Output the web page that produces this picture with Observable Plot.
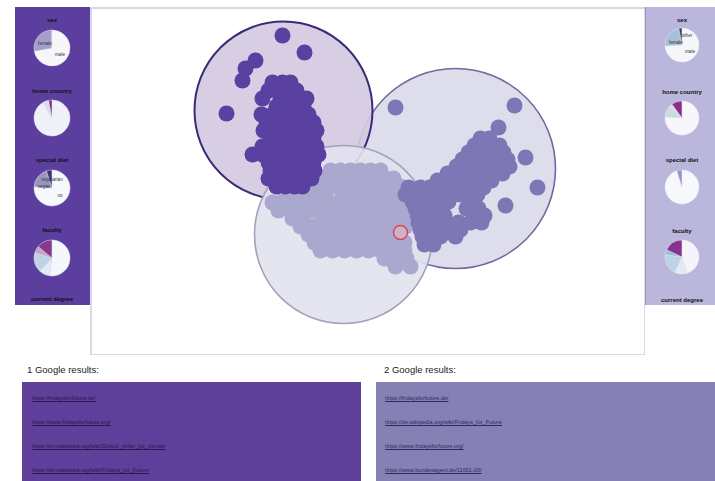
<!DOCTYPE html>
<html><head><meta charset="utf-8">
<script src="https://cdn.jsdelivr.net/npm/d3@7"></script>
<script src="https://cdn.jsdelivr.net/npm/@observablehq/plot@0.6"></script>
<style>
body{margin:0;background:#fff;font-family:"Liberation Sans",Arial,sans-serif;}
#page{position:relative;width:715px;height:481px;overflow:hidden;background:#fff;}
.side{position:absolute;top:7px;height:298px;}
#left{left:15px;width:75px;background:#5b3e9e;}
#right{left:645px;width:70px;background:#bab6dc;border-left:1px solid #9c99b8;box-sizing:border-box;}
.ttl{position:absolute;font-size:6px;font-weight:bold;color:#111;white-space:nowrap;transform:translate(-50%,-50%);}
.pie{position:absolute;}
#main{position:absolute;left:90px;top:7px;}
.gh{position:absolute;font-size:9.5px;color:#222;}
.gbox{position:absolute;top:382px;height:110px;}
.gbox a{position:absolute;font-size:5.6px;text-decoration:underline;white-space:nowrap;}
</style>
</head><body>
<div id="page">
  <div id="left" class="side"></div>
  <div id="right" class="side"></div>
  <div id="main"></div>
  <div class="gh" style="left:27px;top:364px;">1 Google results:</div>
  <div class="gh" style="left:384px;top:364px;">2 Google results:</div>
  <div id="g1" class="gbox" style="left:22px;width:339px;background:#5e3f99;"></div>
  <div id="g2" class="gbox" style="left:376px;width:339px;background:#8581b5;"></div>
</div>
<script>
// ---- cluster hulls ----
const clusterIds = [1, 2, 3];
const clusterX = [283, 455, 343];
const clusterY = [110, 168, 234];
const clusterR = [89, 100, 89];

// ---- points per cluster [x, y] ----
const points1 = [[282,35],[304,52],[255,60],[245,68],[242,80],[226,113],
 [272,82],[282,82],[290,82],
 [268,90],[278,90],[287,90],[296,90],
 [262,98],[280,98],[290,98],[300,98],[306,98],
 [276,106],[285,106],[294,106],[303,106],
 [261,114],[272,114],[281,114],[290,114],[299,114],[308,114],
 [266,122],[276,122],[285,122],[294,122],[303,122],[313,122],
 [263,130],[272,130],[281,130],[290,130],[299,130],[308,130],[316,130],
 [270,138],[279,138],[288,138],[297,138],[306,138],[313,138],
 [262,146],[272,146],[281,146],[290,146],[299,146],[308,146],[316,146],
 [252,154],[262,154],[272,154],[281,154],[290,154],[299,154],[308,154],[318,154],
 [268,162],[277,162],[286,162],[295,162],[304,162],[313,162],
 [270,170],[279,170],[288,170],[297,170],[306,170],[314,170],
 [268,178],[277,178],[286,178],[295,178],[304,178],[311,178],
 [276,186],[285,186],[294,186],[302,186]];
const points2 = [[395,107],[514,105],[498,127],[525,157],[537,187],[505,205],
 [480,138],[489,138],
 [474,145],[483,145],[492,145],[499,145],
 [468,152],[477,152],[486,152],[495,152],[503,152],
 [462,159],[471,159],[480,159],[489,159],[498,159],[507,159],
 [456,166],[465,166],[474,166],[483,166],[492,166],[501,166],[509,166],
 [447,173],[456,173],[465,173],[474,173],[483,173],[492,173],[502,173],
 [437,180],[446,180],[455,180],[464,180],[473,180],[482,180],[491,180],
 [408,187],[420,187],[429,187],[438,187],[447,187],[456,187],[465,187],[474,187],[483,187],
 [405,194],[414,194],[423,194],[432,194],[441,194],[450,194],[459,194],[468,194],[477,194],
 [412,201],[421,201],[430,201],[439,201],[448,201],[470,201],
 [415,208],[424,208],[433,208],[442,208],[466,208],[478,208],
 [417,215],[426,215],[435,215],[444,215],[474,215],[484,215],
 [418,222],[427,222],[436,222],[446,222],[458,222],[470,222],[481,222],
 [420,229],[429,229],[438,229],[450,229],[460,229],
 [422,236],[431,236],[440,236],[455,236],
 [424,244],[433,244]];
const points3 = [
 [330,170],[340,170],[350,170],[360,170],[370,170],[380,170],
 [315,178],[325,178],[335,178],[345,178],[355,178],[365,178],[375,178],[385,178],[393,178],
 [300,186],[310,186],[320,186],[330,186],[340,186],[350,186],[360,186],[370,186],[380,186],[390,186],[400,186],
 [285,194],[295,194],[305,194],[315,194],[325,194],[342,194],[352,194],[362,194],[372,194],[382,194],[392,194],[402,194],
 [272,202],[282,202],[296,202],[306,202],[318,202],[330,202],[340,202],[350,202],[360,202],[370,202],[380,202],[390,202],[400,202],
 [278,210],[290,210],[300,210],[312,210],[322,210],[332,210],[342,210],[352,210],[362,210],[372,210],[382,210],[392,210],[402,210],
 [292,218],[302,218],[322,218],[332,218],[342,218],[352,218],[362,218],[372,218],[382,218],[392,218],[402,218],
 [300,226],[312,226],[322,226],[332,226],[342,226],[352,226],[362,226],[372,226],[382,226],[392,226],[405,226],
 [308,234],[318,234],[328,234],[338,234],[348,234],[358,234],[368,234],[378,234],[388,234],[398,234],
 [314,242],[324,242],[334,242],[344,242],[354,242],[364,242],[374,242],[384,242],[394,242],[404,242],
 [320,250],[332,250],[344,250],[356,250],[368,250],[380,250],[392,250],[404,250],
 [384,258],[394,258],[406,258],
 [395,266],[410,266]];
const selected = [[400,232]];

// ---- side panel pies ----
const panelTitles = ["sex", "home country", "special diet", "faculty", "current degree"];
const sexLeft = [72, 28, 0];
const sexRight = [74, 23, 3];
const homeLeft = [92, 5, 3];
const homeRight = [76, 12, 2, 10];
const dietLeft = [76, 19, 5];
const dietRight = [95, 5];
const facultyLeft = [52, 10, 18, 6, 14];
const facultyRight = [45, 12, 20, 5, 18];

// ---- google results ----
const links1 = ["https://fridaysforfuture.de/", "https://www.fridaysforfuture.org/",
  "https://en.wikipedia.org/wiki/School_strike_for_climate", "https://de.wikipedia.org/wiki/Fridays_for_Future"];
const links2 = ["https://fridaysforfuture.de/", "https://de.wikipedia.org/wiki/Fridays_for_Future",
  "https://www.fridaysforfuture.org/", "https://www.bundesagent.de/11001-20/"];

// ================= main scatter =================
const hulls = clusterIds.map((id, i) => ({id, x: clusterX[i], y: clusterY[i], r: clusterR[i]}));
const hullOrder = [1, 0, 2];
const hullFill = ["#d4c9e0", "#d9d9e9", "#e2e2ee"];
const hullStroke = ["#3b2a78", "#6f6a9c", "#a3a2bb"];
const hullWidth = [2, 1.6, 1.6];
const toObj = a => a.map(([x, y]) => ({x, y}));

const marks = [];
for (const i of hullOrder) {
  marks.push(Plot.dot([hulls[i]], {x: "x", y: "y", r: "r", fill: hullFill[i], fillOpacity: 0.9,
    stroke: hullStroke[i], strokeWidth: hullWidth[i]}));
}
marks.push(Plot.dot(toObj(points3), {x: "x", y: "y", r: 8, fill: "#aba8d0"}));
marks.push(Plot.dot(toObj(points2), {x: "x", y: "y", r: 8, fill: "#7d77b5"}));
marks.push(Plot.dot(toObj(points1), {x: "x", y: "y", r: 8, fill: "#5a40a0"}));
marks.push(Plot.dot(toObj(selected), {x: "x", y: "y", r: 7, fill: "#eab9c2", fillOpacity: 0.6, stroke: "#d2495a", strokeWidth: 1.5}));
marks.push(Plot.frame({stroke: "#b5b2cb", inset: 0.5}));

const chart = Plot.plot({
  width: 555, height: 348, margin: 0,
  x: {domain: [90, 645], axis: null},
  y: {domain: [355, 7], axis: null},
  r: {type: "identity"},
  style: {background: "#fff"},
  marks
});
document.getElementById("main").appendChild(chart);

// ================= side panels =================
function addTitle(panel, cx, cy, text) {
  const d = document.createElement("div");
  d.className = "ttl"; d.style.left = cx + "px"; d.style.top = cy + "px"; d.textContent = text;
  panel.appendChild(d);
}
function addPie(panel, cx, cy, r, values, colors, labels) {
  const s = 2 * r + 4;
  const svg = d3.create("svg").attr("width", s).attr("height", s).attr("class", "pie")
    .style("left", (cx - s / 2) + "px").style("top", (cy - s / 2) + "px");
  const g = svg.append("g").attr("transform", `translate(${s/2},${s/2})`);
  const arcs = d3.pie().sort(null)(values);
  const arc = d3.arc().innerRadius(0).outerRadius(r);
  g.selectAll("path").data(arcs).join("path").attr("d", arc)
    .attr("fill", (d, i) => colors[i]).attr("stroke", "#e8e8f2").attr("stroke-width", 0.5);
  (labels || []).forEach(([t, dx, dy]) => {
    g.append("text").attr("x", dx).attr("y", dy).attr("font-size", 4.6).attr("fill", "#333")
      .attr("text-anchor", "middle").attr("font-family", "Liberation Sans, Arial").text(t);
  });
  panel.appendChild(svg.node());
}
const L = document.getElementById("left"), R = document.getElementById("right");
const lx = 37;
addTitle(L, lx, 13, panelTitles[0]);
addPie(L, lx, 41, 18, sexLeft, ["#f6f6fb", "#a39fc8", "#4a3a80"], [["female", -7, -3], ["male", 8, 8]]);
addTitle(L, lx, 84, panelTitles[1]);
addPie(L, lx, 111, 18, homeLeft, ["#eff1f8", "#d6e0ee", "#7d2a7c"]);
addTitle(L, lx, 153, panelTitles[2]);
addPie(L, lx, 181, 18, dietLeft, ["#f7f8fc", "#9a95c0", "#3f3070"], [["vegetarian", 0, -7], ["vegan", -8, 0], ["no", 8, 9]]);
addTitle(L, lx, 223, panelTitles[3]);
addPie(L, lx, 251, 18, facultyLeft, ["#f4f7fb", "#e0ecf4", "#bfd3e6", "#c7a3cb", "#85398f"]);
addTitle(L, lx, 292, panelTitles[4]);
const rx = 36;
addTitle(R, rx, 13, panelTitles[0]);
addPie(R, rx, 38, 17, sexRight, ["#f5f7fb", "#a7c0d5", "#3d3d70"], [["other", 5, -8], ["female", -6, -1], ["male", 8, 8]]);
addTitle(R, rx, 85, panelTitles[1]);
addPie(R, rx, 111, 17, homeRight, ["#f8f6fb", "#c9dbe9", "#e6d0e6", "#86308a"]);
addTitle(R, rx, 153, panelTitles[2]);
addPie(R, rx, 180, 17, dietRight, ["#f7f8fc", "#9995bf"]);
addTitle(R, rx, 224, panelTitles[3]);
addPie(R, rx, 250, 17, facultyRight, ["#f6f3fa", "#e0ecf4", "#bfd3e6", "#9ebcda", "#86348f"]);
addTitle(R, rx, 293, panelTitles[4]);

// ================= google results =================
function addLinks(id, links, x0, color) {
  const box = document.getElementById(id);
  const ys = [13, 37, 61, 85];
  links.forEach((t, i) => {
    const a = document.createElement("a");
    a.textContent = t; a.style.left = x0 + "px"; a.style.top = (ys[i]) + "px"; a.style.color = color;
    box.appendChild(a);
  });
}
addLinks("g1", links1, 10, "#2a1850");
addLinks("g2", links2, 9, "#2c2a5e");
</script>
</body></html>
